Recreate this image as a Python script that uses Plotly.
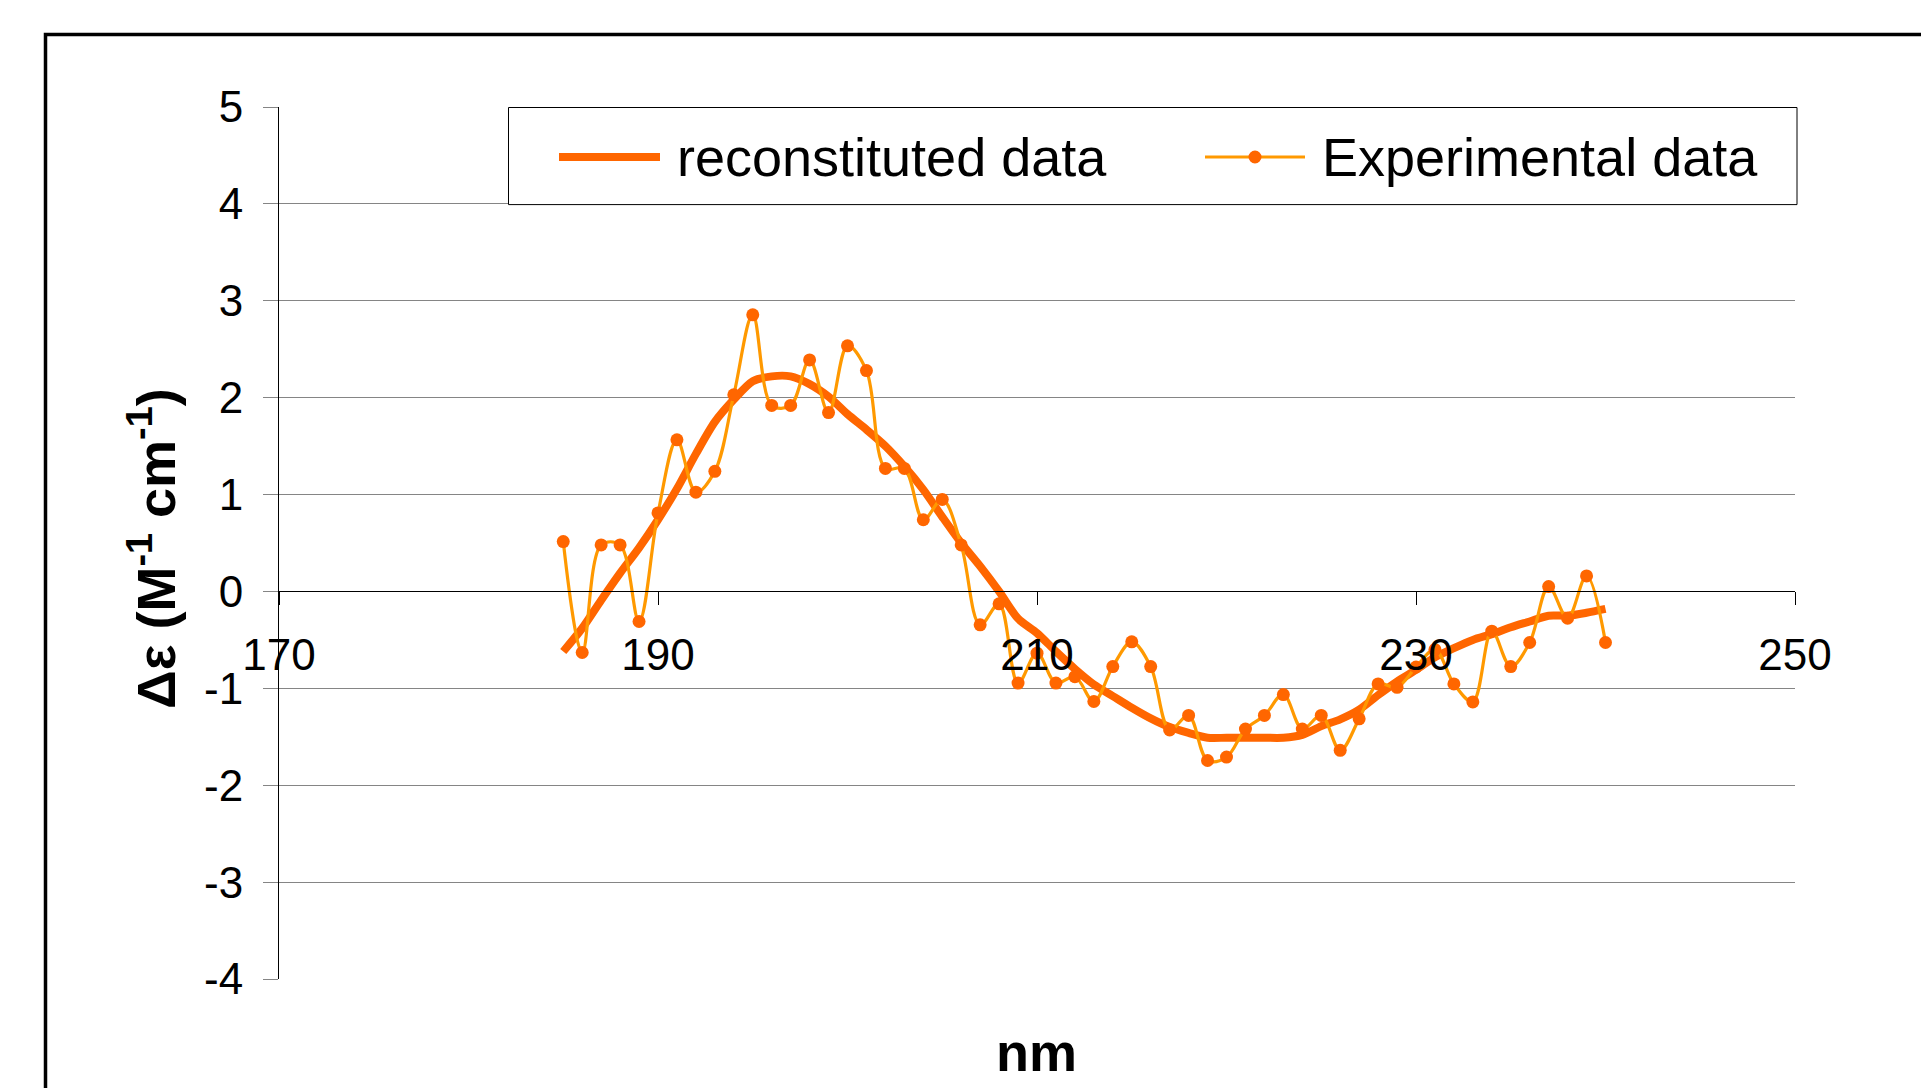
import plotly.graph_objects as go

# ---------------- data ----------------
wavelength = list(range(185, 241))  # nm

experimental = [
    0.515, -0.63, 0.48, 0.48, -0.31, 0.81, 1.565, 1.025, 1.24, 2.03,
    2.855, 1.92, 1.92, 2.39, 1.846, 2.535, 2.28, 1.27, 1.27, 0.74,
    0.95, 0.48, -0.345, -0.128, -0.946, -0.637, -0.946, -0.88, -1.136, -0.775,
    -0.52, -0.775, -1.43, -1.28, -1.745, -1.71, -1.42, -1.28, -1.064, -1.42,
    -1.28, -1.64, -1.315, -0.954, -0.99, -0.78, -0.60, -0.954, -1.14, -0.41,
    -0.775, -0.527, 0.05, -0.276, 0.16, -0.527,
]

reconstituted = [
    -0.62, -0.38, -0.09, 0.19, 0.45, 0.74, 1.06, 1.42, 1.75, 1.98,
    2.17, 2.22, 2.22, 2.14, 2.01, 1.83, 1.67, 1.50, 1.29, 1.05,
    0.77, 0.50, 0.26, 0.0, -0.28, -0.43, -0.62, -0.80, -0.96, -1.08,
    -1.20, -1.31, -1.40, -1.46, -1.51, -1.51, -1.51, -1.51, -1.51, -1.48,
    -1.39, -1.32, -1.22, -1.07, -0.93, -0.81, -0.68, -0.585, -0.50, -0.44,
    -0.37, -0.31, -0.25, -0.25, -0.22, -0.18,
]

x_tick_vals = [170, 190, 210, 230, 250]
y_tick_vals = [-4, -3, -2, -1, 0, 1, 2, 3, 4, 5]
y_tick_text = ["-4", "-3", "-2", "-1", "0", "1", "2", "3", "4", "5"]

series_names = ["reconstituted data", "Experimental data"]

# ---------------- layout constants ----------------
W, H = 1921, 1088
L, R, T, B = 279, 126, 107, 109
PW, PH = W - L - R, H - T - B
FONT = "Liberation Sans, Arial, Helvetica, sans-serif"
C_RECON = "#FF6600"
C_EXP_LINE = "#FF9900"
C_EXP_MARK = "#FF6600"


def px(X):
    return (X - L) / PW


def py(Y):
    return (H - B - Y) / PH


fig = go.Figure()

fig.add_trace(go.Scatter(
    x=wavelength, y=reconstituted, name=series_names[0], mode="lines",
    line=dict(color=C_RECON, width=8, shape="spline", smoothing=0.8),
    showlegend=False,
))
fig.add_trace(go.Scatter(
    x=wavelength, y=experimental, name=series_names[1], mode="lines+markers",
    line=dict(color=C_EXP_LINE, width=3.2, shape="spline", smoothing=1.0),
    marker=dict(color=C_EXP_MARK, size=13),
    showlegend=False,
))

zero_pos = (0 - (-4)) / 9.0

fig.update_layout(
    width=W, height=H,
    margin=dict(l=L, r=R, t=T, b=B, pad=0),
    paper_bgcolor="white", plot_bgcolor="white",
    font=dict(family=FONT, color="black"),
    xaxis=dict(
        range=[170, 250], tickvals=x_tick_vals, showgrid=False, zeroline=False,
        anchor="free", position=zero_pos,
        showline=True, linecolor="black", linewidth=1,
        ticks="outside", ticklen=13, tickcolor="black", tickwidth=1,
        tickfont=dict(size=44, family=FONT, color="black"),
        ticklabelstandoff=12,
    ),
    yaxis=dict(
        range=[-4, 5], tickvals=y_tick_vals, ticktext=y_tick_text,
        showgrid=True, gridcolor="#858585", gridwidth=1, zeroline=False,
        showline=True, linecolor="black", linewidth=1,
        ticks="outside", ticklen=15, tickcolor="#858585", tickwidth=1,
        tickfont=dict(size=44, family=FONT, color="black"),
        ticklabelstandoff=11,
    ),
    showlegend=False,
)

shapes = []
# outer chart border (top & left visible)
shapes.append(dict(
    type="path", xref="paper", yref="paper",
    path=f"M {px(45.5)},{py(1110)} L {px(45.5)},{py(34.5)} L {px(1940)},{py(34.5)}",
    line=dict(color="black", width=3.5),
))
# legend box
shapes.append(dict(
    type="rect", xref="paper", yref="paper",
    x0=px(508.5), x1=px(1797), y0=py(204.6), y1=py(107.5),
    line=dict(color="black", width=1), fillcolor="white", layer="above",
))
# legend samples
shapes.append(dict(
    type="line", xref="paper", yref="paper",
    x0=px(559), x1=px(660), y0=py(157), y1=py(157),
    line=dict(color=C_RECON, width=8), layer="above",
))
shapes.append(dict(
    type="line", xref="paper", yref="paper",
    x0=px(1205), x1=px(1305), y0=py(157), y1=py(157),
    line=dict(color=C_EXP_LINE, width=3.2), layer="above",
))
shapes.append(dict(
    type="circle", xref="paper", yref="paper",
    xsizemode="pixel", ysizemode="pixel",
    xanchor=px(1255), yanchor=py(157), x0=-6.5, x1=6.5, y0=-6.5, y1=6.5,
    line=dict(color=C_EXP_MARK, width=0), fillcolor=C_EXP_MARK, layer="above",
))
fig.update_layout(shapes=shapes)

annotations = [
    dict(text=series_names[0], xref="paper", yref="paper", x=px(675), y=py(157),
         xanchor="left", yanchor="middle", showarrow=False,
         font=dict(size=54, family=FONT, color="black")),
    dict(text=series_names[1], xref="paper", yref="paper", x=px(1320), y=py(157),
         xanchor="left", yanchor="middle", showarrow=False,
         font=dict(size=54, family=FONT, color="black")),
    dict(text="<b>nm</b>", xref="paper", yref="paper", x=px(1036), y=py(1052),
         xanchor="center", yanchor="middle", showarrow=False,
         font=dict(size=54, family=FONT, color="black")),
    dict(text="<b>Δε (M<sup>-1</sup> cm<sup>-1</sup>)</b>", xref="paper", yref="paper",
         x=px(152), y=py(549), xanchor="center", yanchor="middle", textangle=-90,
         showarrow=False, font=dict(size=54, family=FONT, color="black")),
]
fig.update_layout(annotations=annotations)

fig.write_html(
    "out.html",
    config={"displayModeBar": False},
    post_script="document.body.style.margin='0';document.body.style.overflow='hidden';",
)
